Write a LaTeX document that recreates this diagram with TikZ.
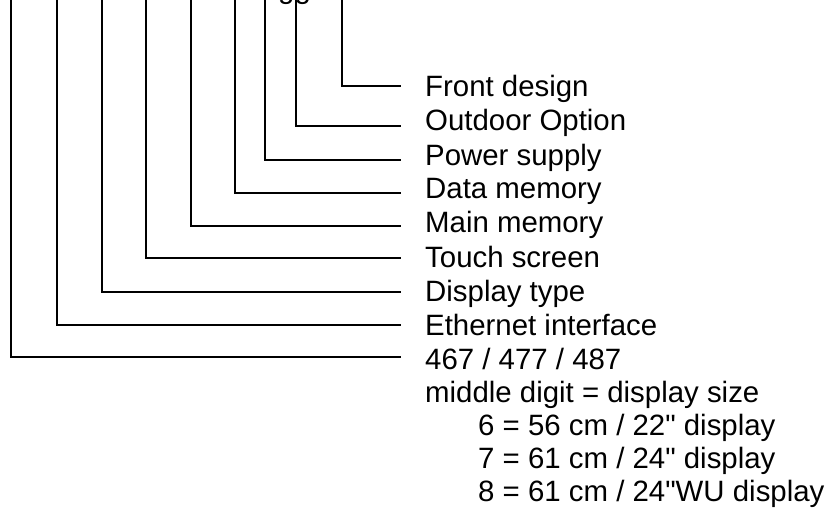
\documentclass[tikz,border=0pt]{standalone}
\usepackage{fontspec}
\setmainfont{Liberation Sans}[Ligatures=TeXOff]
\begin{document}
\begin{tikzpicture}[x=1pt,y=-1pt,
  lbl/.style={anchor=base west,inner sep=0pt,font=\fontsize{29.4pt}{34pt}\selectfont},
  conn/.style={line width=1.1pt,line cap=butt}]
\useasboundingbox (0,0) rectangle (825,508);
% cut-off text fragment at the top edge
\begin{scope}
\clip (0,0) rectangle (825,508);
\node[lbl] (frag) at (278,-1) {gg};
\end{scope}
% labels
\node[lbl] (l1) at (425,97) {Front design};
\node[lbl] (l2) at (425,131) {Outdoor Option};
\node[lbl] (l3) at (425,165) {Power supply};
\node[lbl] (l4) at (425,199) {Data memory};
\node[lbl] (l5) at (425,233) {Main memory};
\node[lbl] (l6) at (425,267) {Touch screen};
\node[lbl] (l7) at (425,301) {Display type};
\node[lbl] (l8) at (425,335) {Ethernet interface};
\node[lbl] (l9) at (425,369) {467 / 477 / 487};
\node[lbl] (m0) at (425,402) {middle digit = display size};
\node[lbl] (m1) at (478,435) {6 = 56 cm / 22" display};
\node[lbl] (m2) at (478,468) {7 = 61 cm / 24" display};
\node[lbl] (m3) at (478,501) {8 = 61 cm / 24"WU display};
% connector end points
\foreach \i/\x/\y in {1/342/86,2/296/126,3/265/160,4/235/193,5/191/226,6/146/258,7/102/292,8/57/325,9/11/357}{
  \coordinate (t\i) at (\x,0);
  \coordinate (e\i) at (401,\y);
  \draw[conn] (t\i) |- (e\i);
}
\end{tikzpicture}
\end{document}
